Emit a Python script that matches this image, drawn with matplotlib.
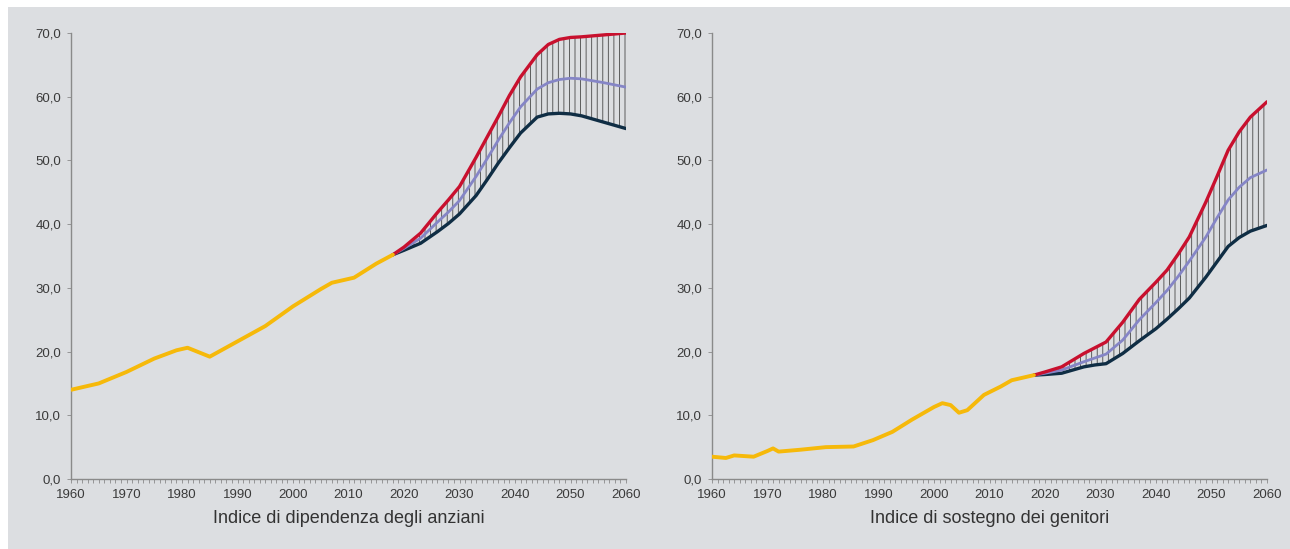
import numpy as np
import matplotlib.pyplot as plt
from matplotlib.patches import Rectangle
from matplotlib.ticker import FuncFormatter, MultipleLocator

# --- data: Indice di dipendenza degli anziani ---
hist_years_a = [1960, 1965, 1970, 1975, 1979, 1981, 1983, 1985, 1990, 1995,
                2000, 2005, 2007, 2009, 2011, 2015, 2018]
hist_vals_a = [14.0, 15.0, 16.8, 18.9, 20.2, 20.6, 19.9, 19.2, 21.6, 24.0,
               27.1, 29.8, 30.8, 31.2, 31.6, 33.8, 35.2]
proj_years_a = [2018, 2020, 2023, 2026, 2028, 2030, 2033, 2035, 2037, 2039,
                2041, 2044, 2046, 2048, 2050, 2052, 2056, 2060]
upper_a = [35.2, 36.4, 38.6, 41.8, 43.8, 45.9, 50.5, 53.7, 56.9, 60.2,
           63.1, 66.6, 68.2, 69.0, 69.3, 69.4, 69.7, 70.0]
median_a = [35.2, 36.2, 37.8, 40.3, 41.9, 43.7, 47.5, 50.3, 53.2, 55.9,
            58.4, 61.2, 62.2, 62.7, 62.9, 62.8, 62.2, 61.5]
lower_a = [35.2, 35.9, 37.0, 38.8, 40.1, 41.6, 44.5, 47.0, 49.6, 52.0,
           54.3, 56.8, 57.3, 57.4, 57.3, 57.0, 56.0, 55.0]

# --- data: Indice di sostegno dei genitori ---
hist_years_b = [1960, 1962.5, 1964, 1967.5, 1970, 1971, 1972, 1976, 1980.5,
                1985.5, 1989, 1992.5, 1996, 2000, 2001.5, 2003, 2004.5, 2006,
                2009, 2012, 2014, 2018]
hist_vals_b = [3.5, 3.3, 3.7, 3.5, 4.4, 4.8, 4.3, 4.6, 5.0,
               5.1, 6.1, 7.4, 9.3, 11.3, 11.9, 11.6, 10.4, 10.8,
               13.2, 14.5, 15.5, 16.3]
proj_years_b = [2018, 2020, 2023, 2027, 2029, 2031, 2034, 2037, 2040, 2042,
                2044, 2046, 2049, 2051, 2053, 2055, 2057, 2060]
upper_b = [16.3, 16.8, 17.6, 19.7, 20.6, 21.5, 24.6, 28.2, 30.9, 32.8,
           35.3, 38.0, 43.5, 47.5, 51.6, 54.5, 56.8, 59.2]
median_b = [16.3, 16.6, 17.1, 18.4, 19.0, 19.6, 21.8, 25.0, 27.7, 29.6,
            31.8, 34.2, 38.0, 41.0, 43.8, 45.8, 47.3, 48.5]
lower_b = [16.3, 16.4, 16.6, 17.6, 17.9, 18.1, 19.7, 21.7, 23.6, 25.1,
           26.7, 28.4, 31.7, 34.1, 36.5, 37.9, 38.9, 39.8]

titles = ['Indice di dipendenza degli anziani', 'Indice di sostegno dei genitori']

plt.rcParams['font.family'] = ['Liberation Sans', 'DejaVu Sans']
plt.rcParams['hatch.linewidth'] = 0.6

bg = '#dcdee1'
fig = plt.figure(figsize=(12.9, 5.49), dpi=100, facecolor='white')
fig.patches.append(Rectangle((8 / 1290, 0), 1 - 8 / 1290, 542 / 549,
                             transform=fig.transFigure, facecolor=bg,
                             edgecolor='none', zorder=-10))

panels = [
    (hist_years_a, hist_vals_a, proj_years_a, upper_a, median_a, lower_a),
    (hist_years_b, hist_vals_b, proj_years_b, upper_b, median_b, lower_b),
]
lefts = [71 / 1290, 712 / 1290]

for i, (hy, hv, py, up, md, lo) in enumerate(panels):
    ax = fig.add_axes([lefts[i], 70 / 549, 555 / 1290, 446 / 549])
    ax.set_facecolor('none')

    # band with vertical lines
    ax.fill_between(py, lo, up, facecolor='none', edgecolor='#474747',
                    hatch='|||', linewidth=0, zorder=2)
    ax.plot(py, lo, color='#0f2d44', lw=2.4, solid_capstyle='round',
            solid_joinstyle='round', zorder=3)
    ax.plot(py, md, color='#8585c6', lw=2.0, solid_capstyle='round',
            solid_joinstyle='round', zorder=4)
    ax.plot(py, up, color='#c8102e', lw=2.4, solid_capstyle='round',
            solid_joinstyle='round', zorder=5)
    ax.plot(hy, hv, color='#f6b90a', lw=2.8, solid_capstyle='round',
            solid_joinstyle='round', zorder=6)

    ax.set_xlim(1960, 2060)
    ax.set_ylim(0, 70)
    ax.xaxis.set_major_locator(MultipleLocator(10))
    ax.xaxis.set_minor_locator(MultipleLocator(1))
    ax.yaxis.set_major_locator(MultipleLocator(10))
    ax.yaxis.set_major_formatter(FuncFormatter(lambda v, p: f'{v:.1f}'.replace('.', ',')))

    for s in ['top', 'right']:
        ax.spines[s].set_visible(False)
    for s in ['left', 'bottom']:
        ax.spines[s].set_color('#8a8a8a')
        ax.spines[s].set_linewidth(1.0)
    ax.tick_params(axis='both', which='both', colors='#8a8a8a', labelcolor='#3a3a3a',
                   labelsize=9.5, direction='out')
    ax.tick_params(axis='x', which='both', length=3, width=0.6, pad=4)
    ax.tick_params(axis='y', length=3, width=0.6, pad=4)

    ax.set_xlabel(titles[i], fontsize=13, color='#333333', labelpad=7)

fig.savefig('out.png', dpi=100, facecolor=fig.get_facecolor())
